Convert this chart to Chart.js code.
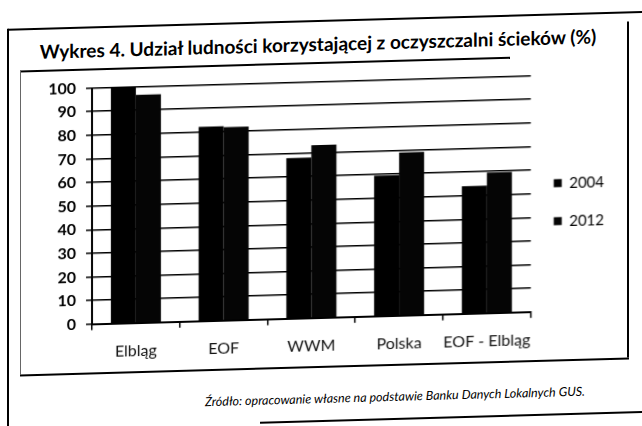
<!DOCTYPE html>
<html lang="pl">
<head>
<meta charset="utf-8">
<title>Wykres 4</title>
<script src="https://cdn.jsdelivr.net/npm/chart.js@4.4.1/dist/chart.umd.min.js"></script>
<style>
  html, body { margin: 0; padding: 0; background: #fff; }
  #page {
    position: absolute; left: 0; top: 0; width: 642px; height: 426px;
    overflow: hidden;
    transform: skewY(-1.6deg);
    transform-origin: 321px 213px;
    font-family: Lato, "Open Sans", sans-serif;
    color: #000;
  }
  .rule { position: absolute; background: #000; }
  #title {
    position: absolute; left: 0px; width: 636px; top: 33px;
    text-align: center; font-weight: bold; font-size: 19px; line-height: 22px;
  }
  #chartBox {
    position: absolute; left: 20px; top: 62px; width: 608px; height: 313px;
  }
  #caption {
    position: absolute; left: 150px; width: 490px; top: 391px;
    text-align: center; font-style: italic; font-size: 12.5px; line-height: 16px;
  }
</style>
</head>
<body>
<div id="page">
  <div class="rule" style="left:8px;top:20px;width:634px;height:2px"></div>
  <div class="rule" style="left:7px;top:20px;width:2px;height:406px"></div>
  <div class="rule" style="left:20px;top:62px;width:490px;height:1.5px"></div>
  <div class="rule" style="left:20px;top:62px;width:1px;height:304px;background:#666"></div>
  <div class="rule" style="left:627px;top:30px;width:1.5px;height:336px"></div>
  <div class="rule" style="left:20px;top:366px;width:609px;height:2px"></div>
  <div class="rule" style="left:260px;top:420px;width:382px;height:2px"></div>
  <div id="title">Wykres 4. Udział ludności korzystającej z oczyszczalni ścieków (%)</div>
  <div id="chartBox"><canvas id="chart" width="608" height="313"></canvas></div>
  <div id="caption">Źródło: opracowanie własne na podstawie Banku Danych Lokalnych GUS.</div>
</div>

<script>
// values (percent of population)
const categories = ["Elbląg", "EOF", "WWM", "Polska", "EOF - Elbląg"];
const seriesNames = ["2004", "2012"];
const values2004 = [100, 82.3, 68, 59.5, 54];
const values2012 = [96.5, 81.8, 73.2, 69, 59.5];
const yMin = 0;
const yMax = 100;
const yStep = 10;

const fontFamily = "Lato, 'Open Sans', sans-serif";

function initChart() {
  const ctx = document.getElementById("chart");
  if (!ctx) {
    console.error("chart canvas not found");
    return;
  }

  new Chart(ctx, {
    type: "bar",
    data: {
      labels: categories,
      datasets: [
        { label: seriesNames[0], data: values2004, backgroundColor: "#000" },
        { label: seriesNames[1], data: values2012, backgroundColor: "#050505" }
      ]
    },
    options: {
      responsive: false,
      animation: false,
      layout: { padding: { top: 19, bottom: 8, left: 0, right: 14 } },
      datasets: {
        bar: { categoryPercentage: 0.57, barPercentage: 1.0, borderWidth: 0 }
      },
      scales: {
        x: {
          grid: { drawOnChartArea: false, drawTicks: true, tickLength: 6, color: "#000", lineWidth: 1.5 },
          border: { color: "#000", width: 2 },
          ticks: {
            color: "#111",
            padding: 12,
            autoSkip: false,
            minRotation: 0,
            maxRotation: 0,
            font: { family: fontFamily, size: 16 }
          }
        },
        y: {
          min: yMin,
          max: yMax,
          ticks: { stepSize: yStep, color: "#000", padding: 10, font: { family: fontFamily, size: 16, weight: "bold" } },
          grid: { color: "#000", lineWidth: 1.5, tickLength: 6 },
          border: { color: "#000", width: 2 },
          afterFit: scale => { scale.width = 72; }
        }
      },
      plugins: {
        title: { display: false },
        tooltip: { enabled: false },
        legend: {
          position: "right",
          fullSize: false,
          // empty title only pushes the two items a little lower, as in the scan
          title: { display: true, text: " ", padding: 3, font: { size: 10 } },
          labels: {
            boxWidth: 8,
            boxHeight: 8,
            padding: 23,
            color: "#000",
            font: { family: fontFamily, size: 15 }
          }
        }
      }
    }
  });
}

document.addEventListener("DOMContentLoaded", () => {
  initChart();
});
</script>
</body>
</html>
